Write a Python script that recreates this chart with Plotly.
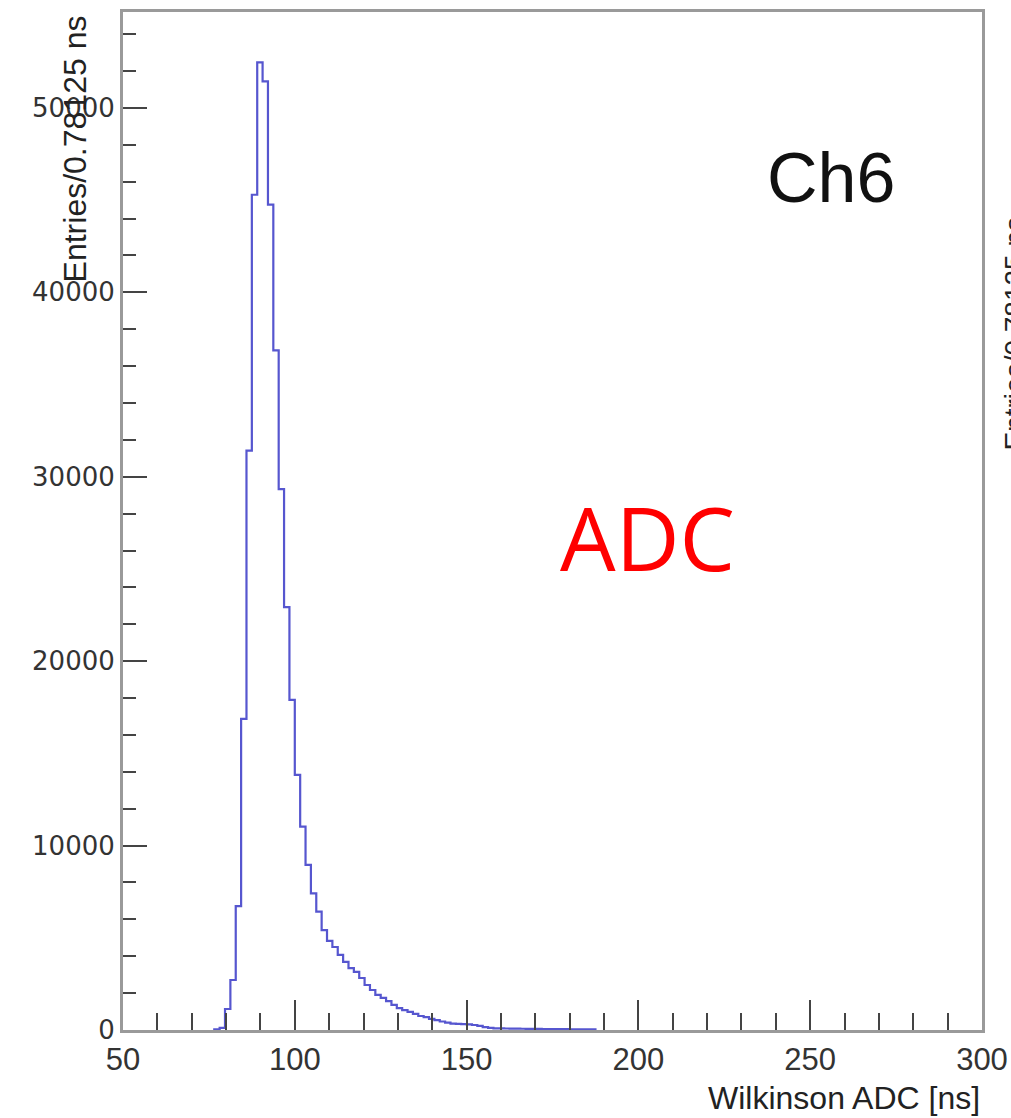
import plotly.graph_objects as go

# ---- data ----
first_edge = 76.5625          # ns, left edge of first non-empty drawn bin
bin_width = 1.5625            # ns, width of each drawn step
counts = [
    40, 120, 1140, 2710, 6720, 16870, 31420, 45290, 52470, 51440,
    44750, 36850, 29330, 22930, 17900, 13830, 11030, 8950, 7410, 6420,
    5420, 4830, 4500, 4070, 3690, 3360, 3150, 2820, 2440, 2170,
    1900, 1740, 1570, 1360, 1190, 1080, 980, 870, 760, 700,
    600, 540, 460, 400, 350, 330, 320, 300, 270, 220,
    160, 110, 90, 85, 80, 75, 70, 68, 65, 60,
    58, 55, 52, 50, 48, 45, 42, 40, 38, 35, 30,
]
x_ticks = [50, 100, 150, 200, 250, 300]
y_ticks = [0, 10000, 20000, 30000, 40000, 50000]
x_range = [50, 300]
y_range = [0, 55200]

# step outline: left edges + closing right edge
edges = [first_edge + i * bin_width for i in range(len(counts) + 1)]
xs = [edges[0]] + edges
ys = [0] + counts + [0]

fig = go.Figure()
fig.add_trace(go.Scatter(
    x=xs, y=ys, mode="lines", line_shape="hv",
    line=dict(color="#5656cf", width=2.2),
    showlegend=False, hoverinfo="skip",
))

axis_common = dict(
    showline=True, linecolor="#9a9a9a", linewidth=3, mirror=True,
    ticks="inside", tickcolor="#444444", tickwidth=2,
    showgrid=False, zeroline=False, automargin=False,
)

fig.update_xaxes(
    range=x_range, tickvals=x_ticks, ticklen=30,
    tickfont=dict(family="Liberation Sans", size=31, color="#333333"),
    ticklabelstandoff=0, ticklabeloverflow="allow",
    minor=dict(dtick=10, tick0=50, ticklen=17, ticks="inside", tickcolor="#444444", tickwidth=2),
    **axis_common,
)
fig.update_yaxes(
    range=y_range, tickvals=y_ticks, tickformat="d", ticklen=24,
    tickfont=dict(family="DejaVu Sans", size=26, color="#333333"),
    minor=dict(dtick=2000, tick0=0, ticklen=13, ticks="inside", tickcolor="#444444", tickwidth=2),
    **axis_common,
)

fig.add_annotation(
    text="Entries/0.78125 ns", textangle=-90, showarrow=False,
    xref="paper", yref="paper", x=-0.056, y=0.999, xanchor="center", yanchor="top",
    font=dict(family="Liberation Sans", size=32, color="#222222"),
)
fig.add_annotation(
    text="Wilkinson ADC [ns]", showarrow=False,
    xref="paper", yref="paper", x=1.0, y=-0.067, xanchor="right", yanchor="middle",
    font=dict(family="Liberation Sans", size=32, color="#222222"),
)
fig.add_annotation(
    text="Ch6", showarrow=False,
    xref="paper", yref="paper", x=0.824, y=0.837, xanchor="center", yanchor="middle",
    font=dict(family="Liberation Sans", size=70, color="#111111"),
)
fig.add_annotation(
    text="ADC", showarrow=False,
    xref="paper", yref="paper", x=0.611, y=0.484, xanchor="center", yanchor="middle",
    font=dict(family="Open Sans", size=88, color="#ff0000"),
)
# sliver of the neighbouring panel's axis title at the right edge
fig.add_annotation(
    text="Entries/0.78125 ns", textangle=-90, showarrow=False,
    xref="paper", yref="paper", x=(996 - 123) / 859, y=(1030 - 453) / 1018,
    xanchor="left", yanchor="bottom",
    font=dict(family="Liberation Sans", size=28, color="#222222"),
)

fig.update_layout(
    width=1011, height=1118,
    margin=dict(l=123, r=29, t=12, b=88),
    paper_bgcolor="white", plot_bgcolor="white",
)

fig.write_html("out.html")
